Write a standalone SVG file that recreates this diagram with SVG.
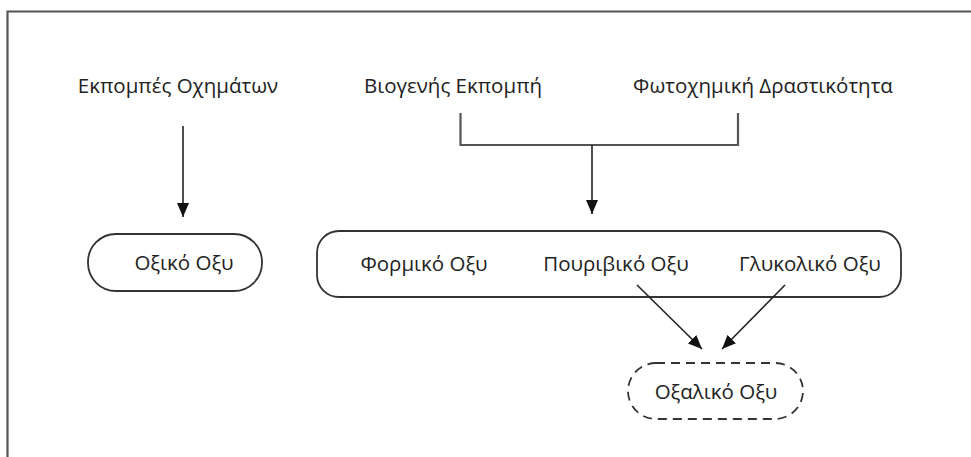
<svg xmlns="http://www.w3.org/2000/svg" width="971" height="457" viewBox="0 0 971 457">
<style>
text{font-family:"Open Sans","Noto Sans","DejaVu Sans",sans-serif;font-size:20.5px;fill:#222;text-anchor:middle}
.box{fill:none;stroke:#333;stroke-width:1.8}
.dash{fill:none;stroke:#333;stroke-width:1.8;stroke-dasharray:9 6}
.ln{fill:none;stroke:#222;stroke-width:1.6}
.br{fill:none;stroke:#555;stroke-width:2.2}
</style>
<defs>
<marker id="ahL" viewBox="0 0 14 12" refX="14" refY="6" markerWidth="14" markerHeight="12" markerUnits="userSpaceOnUse" orient="auto">
<path d="M0,0 L14,6 L0,12 z" fill="#111"/>
</marker>
</defs>
<rect width="971" height="457" fill="#fff"/>
<path d="M7.5,457 V11.5 H971" fill="none" stroke="#555" stroke-width="2.2"/>
<g id="src-vehicles"><text x="178" y="93">Εκπομπές Οχημάτων</text></g>
<g id="src-biogenic"><text x="453" y="93">Βιογενής Εκπομπή</text></g>
<g id="src-photochem"><text x="763" y="93">Φωτοχημική Δραστικότητα</text></g>
<g id="acetic">
<rect class="box" x="88" y="234" width="174" height="57" rx="28"/>
<text x="184" y="270">Οξικό Οξυ</text>
</g>
<g id="acids">
<rect class="box" x="317" y="231" width="584" height="66" rx="22"/>
<text x="424" y="271">Φορμικό Οξυ</text>
<text x="616" y="271">Πουριβικό Οξυ</text>
<text x="810" y="271">Γλυκολικό Οξυ</text>
</g>
<g id="oxalic">
<rect class="dash" x="628" y="363" width="175" height="56" rx="28"/>
<text x="716" y="399">Οξαλικό Οξυ</text>
</g>
<g id="connectors">
<line class="ln" x1="183" y1="126" x2="183" y2="217" marker-end="url(#ahL)"/>
<path class="br" d="M460.5,113 V145 H738 V113"/>
<line class="ln" x1="592" y1="145" x2="592" y2="214" marker-end="url(#ahL)"/>
<line class="ln" x1="637" y1="285" x2="702" y2="349" marker-end="url(#ahL)"/>
<line class="ln" x1="785" y1="285" x2="722" y2="349" marker-end="url(#ahL)"/>
</g>
</svg>
